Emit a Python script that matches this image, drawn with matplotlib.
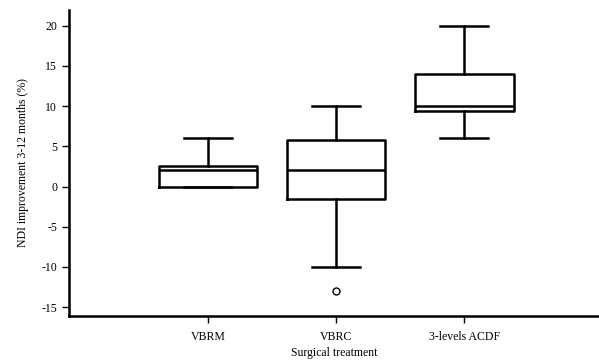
import matplotlib
matplotlib.use("Agg")
import matplotlib.pyplot as plt

categories = ["VBRM", "VBRC", "3-levels ACDF"]
q1 = [0.0, -1.5, 9.4]
median = [2.0, 2.0, 10.0]
q3 = [2.5, 5.75, 14.0]
whislo = [0.0, -10.0, 6.0]
whishi = [6.0, 10.0, 20.0]
fliers = [[], [-13.0], []]
yticks = [-15, -10, -5, 0, 5, 10, 15, 20]

plt.rcParams['font.family'] = ['Liberation Serif', 'DejaVu Serif']

fig = plt.figure(figsize=(5.99, 3.63), dpi=100)
ax = fig.add_axes([69/599, 1-316/363, (599-69)/599, (316-10)/363])

stats = []
for i, c in enumerate(categories):
    stats.append(dict(label=c, q1=q1[i], med=median[i], q3=q3[i],
                      whislo=whislo[i], whishi=whishi[i], fliers=fliers[i]))

lw = 1.8
ax.bxp(stats, positions=[1, 2, 3], widths=0.766,
       boxprops=dict(color='black', linewidth=lw),
       medianprops=dict(color='black', linewidth=lw),
       whiskerprops=dict(color='black', linewidth=lw),
       capprops=dict(color='black', linewidth=lw),
       capwidths=0.375,
       flierprops=dict(marker='o', markerfacecolor='none', markeredgecolor='black',
                       markersize=5, markeredgewidth=1.0))

ax.set_xlim(-0.086, 4.05)
ax.set_ylim(-16.1, 21.95)
ax.set_yticks(yticks)
ax.set_yticklabels([str(t) for t in yticks])
ax.spines['top'].set_visible(False)
ax.spines['right'].set_visible(False)
ax.spines['left'].set_linewidth(1.8)
ax.spines['bottom'].set_linewidth(1.8)
ax.tick_params(axis='both', direction='out', length=5, width=1.0, labelsize=8.5, colors='black')
ax.tick_params(axis='x', pad=6)
ax.set_xlabel("Surgical treatment", fontsize=8.5, labelpad=3)
ax.set_ylabel("NDI improvement 3-12 months (%)", fontsize=8.5, labelpad=9)

fig.savefig("out.png", dpi=100)
